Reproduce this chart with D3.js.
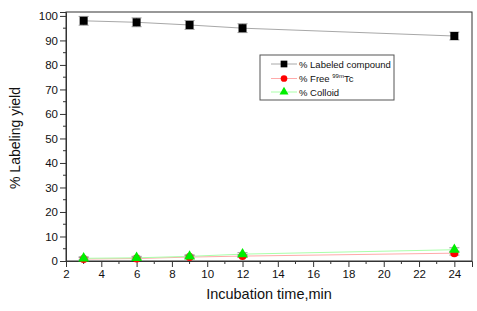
<!DOCTYPE html>
<html>
<head>
<meta charset="utf-8">
<script src="https://cdn.jsdelivr.net/npm/d3@7"></script>
<style>
  body { margin: 0; background: #fff; }
  svg { font-family: Arial, "Liberation Sans", sans-serif; }
</style>
</head>
<body>
<svg id="chart" width="477" height="311"></svg>
<script>
let times = [3, 6, 9, 12, 24];
let labeled = [98.0, 97.4, 96.3, 95.0, 91.8];
let labeledErr = [1.8, 1.8, 1.8, 1.8, 1.6];
let freeTc = [0.8, 1.0, 1.6, 2.0, 3.2];
let colloid = [1.1, 1.3, 1.9, 2.8, 4.6];
let smallErr = [0.6, 0.6, 0.6, 0.6, 0.8];
let xTicks = [2, 4, 6, 8, 10, 12, 14, 16, 18, 20, 22, 24];
let yTicks = [0, 10, 20, 30, 40, 50, 60, 70, 80, 90, 100];

let svg = d3.select('#chart');
let margin = {left: 66, right: 5, top: 12, bottom: 50};
let width = 477, height = 311;

let x = d3.scaleLinear().domain([2, 25]).range([margin.left, width - margin.right]);
let y = d3.scaleLinear().domain([0, 101.6]).range([height - margin.bottom, margin.top]);

// frame
svg.append('rect')
  .attr('x', x(2)).attr('y', y(101.6))
  .attr('width', x(25) - x(2)).attr('height', y(0) - y(101.6))
  .attr('fill', 'none').attr('stroke', '#333').attr('stroke-width', 1);

// minor ticks
let g = svg.append('g');
d3.range(3, 25, 2).forEach(v => {
  g.append('line').attr('x1', x(v)).attr('x2', x(v)).attr('y1', y(0)).attr('y2', y(0) + 3).attr('stroke', '#333');
});
d3.range(5, 100, 10).forEach(v => {
  g.append('line').attr('x1', x(2)).attr('x2', x(2) - 3).attr('y1', y(v)).attr('y2', y(v)).attr('stroke', '#333');
});

let xAxis = svg.append('g')
  .attr('transform', `translate(0,${y(0)})`)
  .call(d3.axisBottom(x).tickValues(xTicks).tickSize(6).tickPadding(3));
let yAxis = svg.append('g')
  .attr('transform', `translate(${x(2)},0)`)
  .call(d3.axisLeft(y).tickValues(yTicks).tickSize(6).tickPadding(2));
[xAxis, yAxis].forEach(a => {
  a.select('.domain').attr('stroke', '#333');
  a.selectAll('.tick line').attr('stroke', '#333');
  a.selectAll('.tick text').attr('font-size', 11.5).attr('fill', '#111')
    .attr('font-family', 'Arial, "Liberation Sans", sans-serif');
});

svg.append('text')
  .attr('x', 269).attr('y', 299)
  .attr('text-anchor', 'middle').attr('font-size', 14.5).attr('fill', '#111')
  .text('Incubation time,min');
svg.append('text')
  .attr('transform', 'translate(20,138) rotate(-90)')
  .attr('text-anchor', 'middle').attr('font-size', 14).attr('fill', '#111')
  .text('% Labeling yield');

let series = [
  {name: 'labeled', vals: labeled, err: labeledErr, line: '#a8a8a8', fill: '#000', shape: d3.symbolSquare, size: 64},
  {name: 'free', vals: freeTc, err: smallErr, line: '#ffaaaa', fill: '#ff0000', shape: d3.symbolCircle, size: 50},
  {name: 'colloid', vals: colloid, err: smallErr, line: '#aaffaa', fill: '#00ee00', shape: d3.symbolTriangle, size: 50}
];

let line = d3.line().x(d => x(d[0])).y(d => y(d[1]));

series.forEach(s => {
  let pts = times.map((t, i) => [t, s.vals[i], s.err[i]]);
  svg.append('path').datum(pts).attr('d', line)
    .attr('fill', 'none').attr('stroke', s.line).attr('stroke-width', 1);
});

series.forEach(s => {
  let pts = times.map((t, i) => [t, s.vals[i], s.err[i]]);
  let eb = svg.append('g').attr('stroke', '#999').attr('stroke-width', 1);
  pts.forEach(p => {
    eb.append('line').attr('x1', x(p[0])).attr('x2', x(p[0])).attr('y1', y(p[1] - p[2])).attr('y2', y(p[1] + p[2]));
    eb.append('line').attr('x1', x(p[0]) - 5).attr('x2', x(p[0]) + 5).attr('y1', y(p[1] - p[2])).attr('y2', y(p[1] - p[2]));
    eb.append('line').attr('x1', x(p[0]) - 5).attr('x2', x(p[0]) + 5).attr('y1', y(p[1] + p[2])).attr('y2', y(p[1] + p[2]));
  });
  svg.append('g').selectAll('path').data(pts).enter().append('path')
    .attr('d', d3.symbol().type(s.shape).size(s.size))
    .attr('transform', d => `translate(${x(d[0])},${y(d[1])})`)
    .attr('fill', s.fill);
});

// legend
let lg = svg.append('g');
lg.append('rect').attr('x', 260).attr('y', 55).attr('width', 134).attr('height', 45)
  .attr('fill', '#fff').attr('stroke', '#555');
let legendLabels = ['% Labeled compound', '% Free ', '% Colloid'];
let legendY = [64, 78.5, 92];
series.forEach((s, i) => {
  lg.append('line').attr('x1', 271).attr('x2', 297).attr('y1', legendY[i]).attr('y2', legendY[i])
    .attr('stroke', s.line);
  lg.append('path').attr('d', d3.symbol().type(s.shape).size(s.size * 0.7)())
    .attr('transform', `translate(284,${legendY[i]})`).attr('fill', s.fill);
  let t = lg.append('text').attr('x', 299).attr('y', legendY[i] + 3.5)
    .attr('font-size', 9.5).attr('fill', '#111').text(legendLabels[i]);
  if (i === 1) {
    t.append('tspan').attr('font-size', 6).attr('dy', -4).text('99m');
    t.append('tspan').attr('dy', 4).text('Tc');
  }
});
</script>
</body>
</html>
